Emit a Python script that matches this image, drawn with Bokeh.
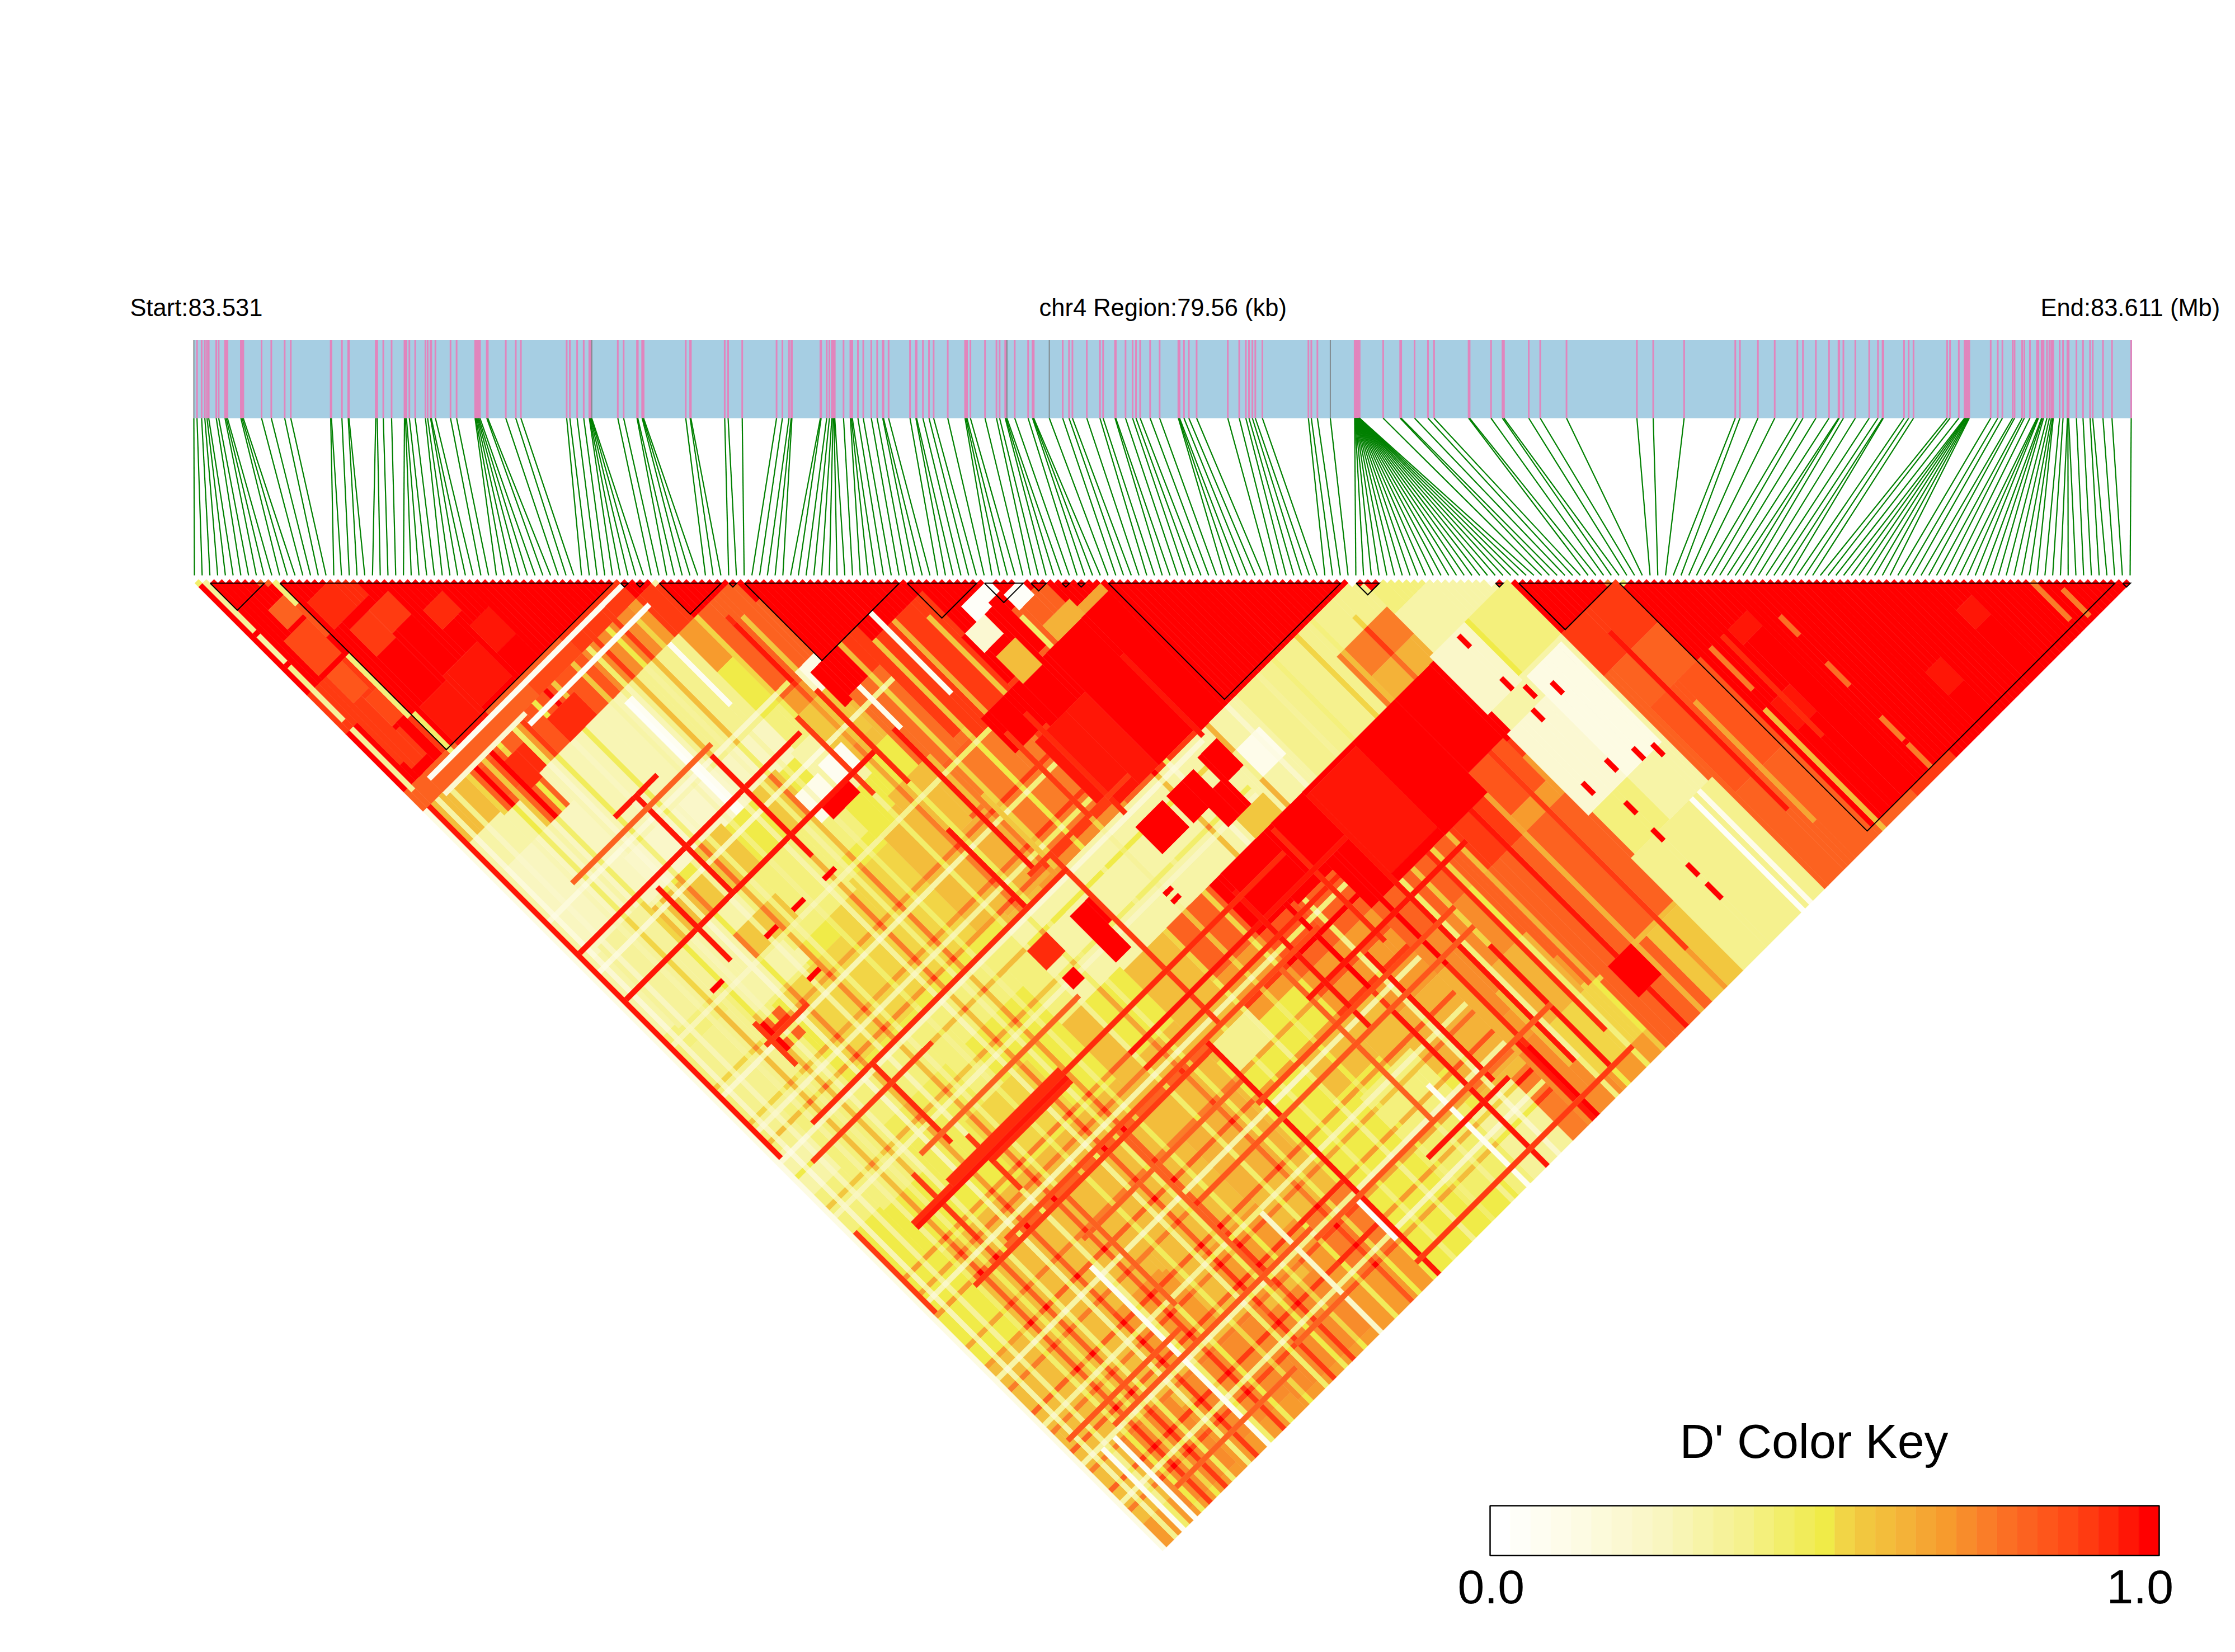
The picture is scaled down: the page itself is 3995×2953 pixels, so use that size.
from bokeh.plotting import figure
from bokeh.embed import file_html
from bokeh.resources import INLINE
from bokeh.core.properties import value
import numpy as np

SNP_KB = [0.0,0.13,0.32,0.45,0.54,0.61,0.92,1.02,1.28,1.33,1.38,1.93,1.98,2.03,2.78,3.18,3.73,3.98,5.62,5.65,
6.08,6.34,6.37,7.47,7.53,7.78,8.12,8.65,8.69,8.73,8.85,9.09,9.51,9.60,9.72,9.75,9.92,10.54,10.79,11.55,
11.58,11.62,11.66,11.70,11.75,12.03,12.07,12.81,13.22,13.43,15.31,15.44,15.74,16.01,16.24,16.26,16.29,16.32,16.34,17.41,
17.65,18.20,18.23,18.41,18.44,18.47,20.20,20.38,20.41,21.80,21.94,22.52,23.93,24.17,24.44,24.53,24.56,25.73,25.76,25.99,
26.10,26.20,26.25,26.29,26.32,26.68,26.96,27.00,27.04,27.27,27.49,27.82,28.06,28.29,28.32,28.53,29.41,29.65,29.68,29.94,
30.19,30.38,30.96,31.67,31.71,31.75,31.89,32.49,32.96,33.09,33.32,33.35,33.39,33.71,34.26,34.44,34.47,34.49,35.13,35.68,
35.94,36.08,36.67,37.21,37.34,37.83,37.86,38.26,38.55,38.69,38.86,39.27,39.66,40.43,40.45,40.48,40.66,40.86,41.18,42.46,
42.93,43.20,43.33,43.47,43.59,43.88,45.77,45.89,46.14,46.67,47.67,47.68,47.69,47.70,47.71,47.72,47.73,47.74,47.75,47.76,
47.77,47.78,47.79,47.80,47.81,47.82,47.83,47.84,47.85,47.85,47.86,47.86,47.86,47.87,48.84,49.54,49.58,50.13,50.68,50.93,
52.35,52.39,53.27,53.74,53.80,54.82,55.29,56.37,59.26,59.93,61.20,63.30,63.49,64.23,64.92,65.85,66.08,66.61,67.15,67.54,
67.57,67.74,68.23,68.80,69.16,69.35,69.38,70.23,70.42,70.62,72.00,72.12,72.48,72.72,72.75,72.78,72.81,72.85,72.88,72.91,
73.79,74.08,74.27,74.69,74.77,75.08,75.17,75.40,75.69,75.72,75.75,75.88,75.91,75.96,76.10,76.20,76.28,76.33,76.36,76.62,
76.76,76.94,76.96,76.99,77.31,77.58,77.87,77.98,78.40,78.77,79.56]
GRAY_SNPS = [0, 58, 112, 118, 149]

BIN_EDGES = [0,10,20,30,40,55,60,70,80,92,100,110,120,130,140,150,160,170,184,195,205,215,225,235,245,251]
COARSE = [
"AAA9A86333334443455566667",
"AA9987333334444456666667",
"AAA87333534554456666677",
"AA87433545554456666677",
"A97443545554556666677",
"A9754355554466666777",
"A888"[:3]+"765666335666667"+"7",
"AA988887326655555"+"5",
"AAA99873287565545",
"AA9A9833A8766544",
"A8AA933A8776667",
"AAAA34AA887777",
"AAA33AA888777",
"AA35AA988888",
"A35A9777666",
"4353444344",
"343333334",
"A9888888",
"AAA9998",
"AAAA99",
"AAAAA",
"AAAA",
"AAA",
"AA",
"A",
]
BLOCK_FIRST = [2,11,55,57,60,69,71,92,102,108,112,114,118,150,168,171,184,249]
BLOCK_LAST  = [9,54,56,58,68,70,91,101,107,110,113,115,148,153,169,183,248,250]

# (first i, last i, first j, last j, D')
PATCHES = [
(20,28,45,53,.97),(13,20,46,55,.96),(12,20,18,24,.95),(14,18,27,33,.9),(19,23,27,32,.92),(26,30,34,38,.95),(30,34,42,48,.96),
(4,9,20,28,.88),(5,8,30,36,.85),(7,10,38,44,.88),(3,6,40,50,.9),(6,9,14,18,.8),(4,7,46,52,.9),
(40,53,55,59,.92),(30,40,56,60,.88),(40,52,60,70,.72),(25,40,60,70,.85),(28,34,64,70,.95),(10,22,56,70,.8),(12,18,62,68,.85),
(14,20,70,78,.82),(17,21,64,70,.95),(30,40,70,72,.7),
(40,55,70,92,.38),(20,40,70,92,.28),(3,20,78,100,.24),(20,40,92,100,.22),(40,55,92,100,.24),
(44,50,100,109,.57),(30,36,100,109,.57),(24,30,103,110,.55),(17,23,102,109,.58),(36,42,112,120,.56),
(5,16,100,120,.34),(16,30,110,128,.3),(30,46,110,125,.42),
(46,56,124,146,.54),(38,46,126,146,.54),(22,38,130,148,.52),(16,20,131,137,.8),(4,14,125,150,.38),(24,34,116,122,.56),
(55,62,100,112,.3),(60,68,96,106,.55),(62,70,76,90,.82),(66,70,90,95,.12),(68,74,92,100,1),(57,62,105,110,.06),(50,55,106,112,.1),(52,58,110,113,1),
(72,88,122,145,.76),(70,80,100,120,.78),(78,92,96,118,.9),(84,92,120,128,1),(62,72,118,130,.6),(62,72,132,148,.62),(56,66,122,146,.6),
(92,101,107,118,1),(94,98,114,120,.58),(93,97,107,111,.2),(96,99,103,106,.02),(100,102,103,105,.03),(103,106,107,110,.04),(104,110,116,122,.62),(111,116,118,123,.65),
(100,116,120,148,1),(88,100,130,148,.96),(75,90,146,150,.72),
(70,100,150,170,.3),(100,120,150,170,.32),(120,150,150,170,.38),(138,150,158,170,.75),(140,150,165,170,.62),
(107,111,153,159,1),(98,104,154,160,1),(102,107,159,165,1),(90,96,154,160,1),(70,74,157,162,1),(70,73,163,168,1),(60,64,156,160,.95),
(85,86,166,166,1),(85,86,168,168,1),(61,63,164,166,1),(112,118,157,163,.08),(104,110,166,170,.55),
(92,116,172,184,1),(128,150,172,190,1),(116,128,172,192,.98),(140,148,190,200,.85),(92,100,184,190,.85),
(70,84,232,245,.5),(84,96,232,246,.44),(96,106,235,250,.34),(106,110,235,250,.76),(110,118,232,250,.72),(70,85,218,230,.5),
(84,96,218,230,.42),(72,80,190,198,.38),(44,56,234,248,.72),(24,36,232,246,.72),(37,43,232,248,.72),(8,20,232,248,.72),(43,56,218,230,.7),
(24,36,214,228,.68),(60,70,226,240,.74),(56,68,200,216,.62),(36,48,200,214,.6),(18,34,160,176,.46),(30,45,170,182,.54),(8,18,145,170,.4),(110,125,205,225,.72),(115,125,222,240,.6),(100,112,212,232,.64),
(118,130,232,245,.54),(116,126,218,232,.62),(128,150,205,232,.82),(130,150,234,250,.82),(133,138,233,240,1),(172,184,226,250,.82),(172,184,205,226,.84),
(142,150,234,250,.55),(150,160,190,210,.2),(150,170,222,250,.36),(160,168,185,210,.14),(150,158,170,184,.22),
(192,196,205,208,.97),(188,192,220,226,.97),(212,215,236,241,.97),(224,227,232,236,.97),
]

# SNP, D' : SNPs that run as a pale line through the field, as the left member of the pair
PALE_LEFT = [(3,.1),(6,.2),(10,.3),(14,.35),(18,.25),(22,.15),(28,.2),(33,.3),(38,.35),(42,.2),(47,.3),(52,.35),(60,.3),(66,.35),(75,.35),(80,.3),(85,.4),(90,.3),(102,.12),(117,.15),(120,.35),(125,.3),(129,.45),(139,.45)]
# the same, as the right member of the pair
PALE_RIGHT = [(90,.1),(103,.06),(122,.2),(135,.1),(144,.15),(151,.1),(165,.2),(188,.1),(207,.06),(219,.15),(229,.1),(239,.1)]
# SNPs that run as an orange line, with the raise in D' that they show
DARK_LEFT = [(12,.2),(16,.2),(24,.2),(31,.2),(44,.2),(49,.2),(64,.15),(99,.3),(112,.3),(135,.15),(145,.15)]
DARK_RIGHT = [(133,.15),(142,.15),(147,.2),(155,.2),(163,.15),(182,.2),(186,.15),(191,.2),(199,.15),(204,.2),(210,.15),(216,.2),(221,.15),(226,.2),(231,.15),(236,.2),(241,.15)]

# (SNP, first partner, last partner, D') with the SNP as the left member of the pair
STRIPES_I = [
(0,60,250,.12),(1,2,14,.35),(1,16,22,.32),(1,24,29,.38),(1,30,37,.35),(1,40,45,.33),(1,46,55,.35),(1,60,150,.96),(1,170,190,.9),
(5,230,250,.05),(8,230,250,.07),(27,205,250,.05),(56,220,250,.22),(70,230,240,.03),(94,225,250,.05),(165,222,250,.04),(167,222,250,.1),
(10,12,16,.42),(10,17,24,.85),(10,30,45,.4),(11,46,56,.45),(16,170,185,.9),(15,130,140,.9),(28,172,185,.9),
(29,85,110,.97),(40,72,100,.03),(41,72,100,.05),(44,90,115,.97),(53,70,85,.05),(71,110,145,.98),(71,190,250,.96),(72,100,110,.08),(75,146,190,.92),
(83,92,112,.05),(99,210,250,.97),(111,230,250,.98),(107,172,200,.95),(60,96,115,.92),(66,95,118,.94),(74,130,148,.55),(85,125,146,.92),(90,125,150,.93),
(156,171,173,1),(156,182,184,1),(156,190,192,1),(156,214,216,1),(156,221,223,1),(156,230,232,1),(156,235,238,1),(159,206,208,1),(153,206,208,1),(164,208,210,1),(167,210,212,1),(162,189,191,1),(158,186,188,1),
(186,220,250,.58),(187,205,215,.75),(200,210,214,.78),(200,222,227,.78),(200,236,241,.74),(200,243,248,.74),(237,238,247,.76),(240,243,249,.76),
(110,130,150,.98),(116,190,240,.96),(124,195,240,.95),(176,190,235,.98),(178,210,240,.65),(190,205,230,.94),
(20,100,118,.96),(25,150,170,.95),(33,190,220,.8),(48,190,230,.82),(65,130,150,.96),(90,190,230,.8),(94,175,210,.98),(103,200,232,.96),(120,215,245,.97),(135,195,225,.96),(145,190,240,.92),
]
# (SNP, first partner, last partner, D') with the SNP as the right member of the pair
STRIPES_J = [
(56,5,54,.07),(62,25,55,.04),(60,5,25,.2),(85,24,34,.98),(98,2,58,.96),(110,2,65,.97),(120,14,16,1),(120,28,30,1),(120,35,37,1),(120,43,45,1),(131,28,30,1),
(134,14,24,.9),(150,10,75,.95),(155,5,35,.9),(176,10,105,.95),(177,10,48,.96),(175,20,48,.93),(178,28,48,.93),(190,20,100,.88),
(234,85,105,.98),(241,44,56,.8),(244,10,40,.8),(224,2,30,.85),(200,30,70,.82),(210,50,120,.84),(182,60,115,.97),(186,60,100,.95),(192,10,70,.9),(168,20,60,.8),(228,10,60,.85),
(205,70,120,.86),(198,90,130,.97),(230,60,120,.84),(246,70,125,.9),(146,70,95,.9),(88,10,45,.82),
]
FIRST_ROW = [(0,.45),(8,.8),(9,.82),(10,.42),(59,.3),(91,1),(149,0),(150,1),(167,.1),(182,.75),(184,.45)]

KEY_STOPS = [0,.125,.25,.375,.5,.53,.56,.625,.69,.75,.81,.875,.94,1]
KEY_COLORS = ["#ffffff","#fdfbe3","#f9f6c0","#f5f18e","#f0eb48","#f2d646","#f2c83f","#f4b238","#f79a2d","#fa7d28","#fc6320","#ff4a16","#ff2a0b","#ff0000"]
N_LEVELS = 33

def rgb(c):
    return np.array([int(c[k:k+2],16) for k in (1,3,5)],float)
stops = np.array([rgb(c) for c in KEY_COLORS])
def level_color(k):
    t = k/(N_LEVELS-1)
    c = [np.interp(t,KEY_STOPS,stops[:,m]) for m in range(3)]
    return "#%02x%02x%02x"%tuple(int(round(q)) for q in c)
PALETTE = [level_color(k) for k in range(N_LEVELS)]

n = len(SNP_KB)
M = np.full((n,n),np.nan)
for a,row in enumerate(COARSE):
    for off,ch in enumerate(row):
        b = a+off
        v = 1.0 if ch=="A" else int(ch)/10
        M[BIN_EDGES[a]:BIN_EDGES[a+1],BIN_EDGES[b]:BIN_EDGES[b+1]] = v
for a,b in zip(BLOCK_FIRST,BLOCK_LAST):
    M[a:b+1,a:b+1] = 1.0
for i0,i1,j0,j1,v in PATCHES:
    M[i0:i1+1,j0:j1+1] = v
for s,v in DARK_LEFT:
    for j in range(max(s+10,60),n):
        if M[s,j]<.93: M[s,j]=min(1,M[s,j]+v)
for s,v in DARK_RIGHT:
    for i in range(0,min(s-25,110)):
        if M[i,s]<.93: M[i,s]=min(1,M[i,s]+v)
for s,v in PALE_LEFT:
    for j in range(max(s+10,60),n):
        if M[s,j]<.93: M[s,j]=M[s,j]*.45+v*.55
for s,v in PALE_RIGHT:
    for i in range(0,min(s-25,110)):
        if M[i,s]<.93: M[i,s]=M[i,s]*.45+v*.55
for i,j0,j1,v in STRIPES_I:
    M[i,j0:j1+1] = v
for j,i0,i1,v in STRIPES_J:
    M[i0:i1+1,j] = v
for i,v in FIRST_ROW:
    M[i,i+1] = v

Q = np.rint(np.nan_to_num(M,nan=1.0)*(N_LEVELS-1)).astype(int)

X0,Y0,STEP = 354.5,1042.0,13.84
def cx(i,j): return X0+STEP*(i+j-1)/2
def cy(i,j): return Y0+STEP/2*(j-i-1)

rects=[]; open_runs={}
for i in range(n-1):
    runs=[]; j=i+1
    while j<n:
        e=j
        while e+1<n and Q[i,e+1]==Q[i,j]: e+=1
        runs.append((j,e,Q[i,j])); j=e+1
    new={}
    for r in runs:
        new[r]=open_runs.pop(r,i)
    for r,s in open_runs.items():
        rects.append((s,i-1)+r)
    open_runs=new
for r,s in open_runs.items():
    rects.append((s,n-2)+r)

h=STEP/2
xs=[];ys=[];cols=[]
for i0,i1,j0,j1,q in rects:
    xs.append([cx(i1,j0),cx(i1,j1)+h,cx(i0,j1),cx(i0,j0)-h])
    ys.append([cy(i1,j0)-h,cy(i1,j1),cy(i0,j1)+h,cy(i0,j0)])
    cols.append(PALETTE[q])

W,H=3979,2937
p=figure(width=W,height=H,x_range=(0,W),y_range=(H,0),output_backend="svg",toolbar_location=None,min_border=0)
p.axis.visible=False
p.grid.visible=False
p.outline_line_color=None
p.background_fill_color="#ffffff"

p.patches(xs,ys,fill_color=cols,line_color=cols,line_width=0.5)

BX0,BX1,BY0,BY1=346.0,3809.0,607.5,747.0
p.quad(left=[BX0],right=[BX1],top=[BY0],bottom=[BY1],fill_color="#a6cee3",line_color=None)
kb=np.array(SNP_KB)
px=BX0+(BX1-BX0)*kb/SNP_KB[-1]
tick_col=["#808a8e" if k in GRAY_SNPS else "#e185bd" for k in range(n)]
tick_w=[2 if k in GRAY_SNPS else 3 for k in range(n)]
p.segment(px,[BY0]*n,px,[BY1]*n,line_color=tick_col,line_width=tick_w)
gx=347+13.84*np.arange(n)
p.segment(px,[BY1]*n,gx,[1028]*n,line_color="#008000",line_width=2.2)

for a,b in zip(BLOCK_FIRST,BLOCK_LAST):
    l=X0+STEP*(a-.5); r=X0+STEP*(b-.5)
    p.line([l,r,(l+r)/2,l],[Y0,Y0,Y0+(r-l)/2,Y0],line_color="#000000",line_width=2,line_join="miter")

KX0,KX1,KY0,KY1=2663.0,3859.0,2691.0,2780.0
kw=(KX1-KX0)/N_LEVELS
p.quad(left=[KX0+kw*k for k in range(N_LEVELS)],right=[KX0+kw*(k+1) for k in range(N_LEVELS)],top=[KY0]*N_LEVELS,bottom=[KY1]*N_LEVELS,fill_color=PALETTE,line_color=PALETTE,line_width=0.5)
p.quad(left=[KX0],right=[KX1],top=[KY0],bottom=[KY1],fill_color=None,line_color="#000000",line_width=2.5)

def txt(x,y,s,size,align="left"):
    p.text([x],[y],text=[s],text_font=value("Liberation Sans"),text_font_size=value(size),text_align=align,text_baseline="alphabetic",text_color="#000000")
txt(232,549,"Start:83.531","43.5px")
txt(1857,549,"chr4 Region:79.56 (kb)","43.5px")
txt(3647,549,"End:83.611 (Mb)","43.5px")
txt(3002,2575,"D' Color Key","86px")
txt(2605,2836,"0.0","86px")
txt(3765,2836,"1.0","86px")

open("out.html","w").write(file_html(p,INLINE))
